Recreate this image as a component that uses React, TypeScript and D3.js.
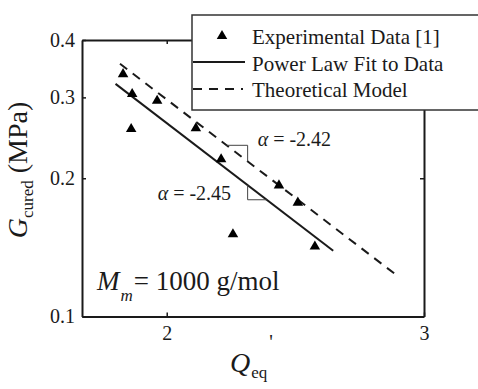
import React, { useEffect, useRef } from "react";
import * as d3 from "d3";

// experimental points (Q_eq', G_cured in MPa)
const qEq = [1.867, 1.894, 1.891, 1.97, 2.094, 2.179, 2.387, 2.459, 2.22, 2.526];
const gCured = [0.337, 0.305, 0.256, 0.295, 0.257, 0.22, 0.193, 0.177, 0.151, 0.142];
// power law fit and theoretical model (end points on log-log axes)
const fitQ = [1.845, 2.6];
const fitG = [0.321, 0.139];
const modelQ = [1.858, 2.88];
const modelG = [0.355, 0.1223];
// slope markers (Q range of each little triangle)
const modelSlopeQ = [2.198, 2.272];
const fitSlopeQ = [2.272, 2.341];
const slopeValues = ["-2.42", "-2.45"];
const xTicks = [2, 3];
const yTicks = [0.1, 0.2, 0.3, 0.4];
const legendLabels = ["Experimental Data [1]", "Power Law Fit to Data", "Theoretical Model"];

const FONT = "Liberation Serif, Times New Roman, serif";
const INK = "#1a1a1a";

const App = () => {
  const ref = useRef<SVGSVGElement>(null);
  const width = 478;
  const height = 389;
  const margin = { top: 40, right: 54, bottom: 72.5, left: 82 };

  useEffect(() => {
    const svg = d3.select(ref.current);
    svg.selectAll("*").remove();

    const x = d3
      .scaleLog()
      .domain([1.75, 3])
      .range([margin.left, width - margin.right]);
    const y = d3
      .scaleLog()
      .domain([0.1, 0.4])
      .range([height - margin.bottom, margin.top]);

    const styleAxis = (g) => {
      g.attr("font-family", null).attr("font-size", null);
      g.select(".domain").attr("stroke", INK).attr("stroke-width", 2);
      g.selectAll(".tick line").attr("stroke", INK).attr("stroke-width", 1.5);
      g.selectAll(".tick text")
        .attr("fill", INK)
        .style("font-family", FONT)
        .style("font-size", "20px");
    };

    svg
      .append("g")
      .attr("transform", `translate(0,${height - margin.bottom})`)
      .call(
        d3.axisBottom(x).tickValues(xTicks).tickFormat(d3.format("d")).tickSize(-4).tickSizeOuter(0).tickPadding(9)
      )
      .call(styleAxis);
    svg
      .append("g")
      .attr("transform", `translate(0,${margin.top})`)
      .call(d3.axisTop(x).tickValues(xTicks).tickFormat(() => "").tickSize(-4).tickSizeOuter(0))
      .call(styleAxis);
    svg
      .append("g")
      .attr("transform", `translate(${margin.left},0)`)
      .call(
        d3.axisLeft(y).tickValues(yTicks).tickFormat(d3.format(".1f")).tickSize(-4).tickSizeOuter(0).tickPadding(7)
      )
      .call(styleAxis);
    svg
      .append("g")
      .attr("transform", `translate(${width - margin.right},0)`)
      .call(d3.axisRight(y).tickValues(yTicks).tickFormat(() => "").tickSize(-4).tickSizeOuter(0))
      .call(styleAxis);

    const line = d3
      .line()
      .x((d) => x(d[0]))
      .y((d) => y(d[1]));

    const fit = d3.zip(fitQ, fitG);
    const model = d3.zip(modelQ, modelG);

    svg
      .append("path")
      .datum(model)
      .attr("d", line)
      .attr("fill", "none")
      .attr("stroke", INK)
      .attr("stroke-width", 2)
      .attr("stroke-dasharray", "9,7");
    svg
      .append("path")
      .datum(fit)
      .attr("d", line)
      .attr("fill", "none")
      .attr("stroke", INK)
      .attr("stroke-width", 2);

    // value of a straight log-log segment at q
    const onLine = (qs, gs, q) => {
      const t = (Math.log(q) - Math.log(qs[0])) / (Math.log(qs[1]) - Math.log(qs[0]));
      return Math.exp(Math.log(gs[0]) + t * (Math.log(gs[1]) - Math.log(gs[0])));
    };

    const m1 = onLine(modelQ, modelG, modelSlopeQ[0]);
    const m2 = onLine(modelQ, modelG, modelSlopeQ[1]);
    svg
      .append("path")
      .datum([
        [modelSlopeQ[0], m1],
        [modelSlopeQ[1], m1],
        [modelSlopeQ[1], m2],
      ])
      .attr("d", line)
      .attr("fill", "none")
      .attr("stroke", "#444")
      .attr("stroke-width", 1);
    const f1 = onLine(fitQ, fitG, fitSlopeQ[0]);
    const f2 = onLine(fitQ, fitG, fitSlopeQ[1]);
    svg
      .append("path")
      .datum([
        [fitSlopeQ[0], f1],
        [fitSlopeQ[0], f2],
        [fitSlopeQ[1], f2],
      ])
      .attr("d", line)
      .attr("fill", "none")
      .attr("stroke", "#444")
      .attr("stroke-width", 1);

    const tri = d3.symbol().type(d3.symbolTriangle).size(48);
    svg
      .selectAll(".pt")
      .data(d3.zip(qEq, gCured))
      .enter()
      .append("path")
      .attr("class", "pt")
      .attr("d", tri)
      .attr("fill", "#000")
      .attr("transform", (d) => `translate(${x(d[0])},${y(d[1])})`);

    const addText = (px, py, size) =>
      svg
        .append("text")
        .attr("x", px)
        .attr("y", py)
        .style("font-family", FONT)
        .style("font-size", `${size}px`)
        .attr("fill", INK);

    // slope labels
    const slopeText = (sx, sy, val) => {
      const t = addText(sx, sy, 20);
      t.append("tspan").style("font-style", "italic").text("α");
      t.append("tspan").text(` = ${val}`);
    };
    slopeText(x(modelSlopeQ[1]) + 10, y(m1) + 1, slopeValues[0]);
    slopeText(x(fitSlopeQ[0]) - 90, y(f1) + 15, slopeValues[1]);

    // M_m annotation
    const mm = addText(97, 290, 27);
    mm.append("tspan").style("font-style", "italic").text("M");
    mm.append("tspan").style("font-style", "italic").style("font-size", "17px").attr("dy", 11).attr("dx", 1).text("m");
    mm.append("tspan").attr("dy", -11).attr("dx", 1).text("= 1000 g/mol");

    // axis titles
    const yl = addText(0, 0, 28)
      .attr("transform", "translate(27,170) rotate(-90)")
      .attr("text-anchor", "middle");
    yl.append("tspan").style("font-style", "italic").text("G");
    yl.append("tspan").style("font-size", "17px").attr("dy", 6).text("cured");
    yl.append("tspan").attr("dy", -6).text(" (MPa)");

    const xl = addText(230, 372, 28);
    xl.append("tspan").style("font-style", "italic").text("Q");
    xl.append("tspan").style("font-size", "17px").attr("dy", 6).attr("dx", 1).text("eq");
    xl.append("tspan").style("font-size", "20px").attr("dy", -29).attr("dx", 2).text("'");

    // legend
    const lg = svg.append("g");
    lg.append("rect")
      .attr("x", 192)
      .attr("y", 15)
      .attr("width", 320)
      .attr("height", 95)
      .attr("fill", "#fff")
      .attr("stroke", "#333")
      .attr("stroke-width", 1.5);
    lg.append("path").attr("d", tri).attr("fill", "#000").attr("transform", "translate(222,36)");
    lg.append("line")
      .attr("x1", 193)
      .attr("x2", 245)
      .attr("y1", 62)
      .attr("y2", 62)
      .attr("stroke", INK)
      .attr("stroke-width", 2);
    lg.append("line")
      .attr("x1", 193)
      .attr("x2", 243)
      .attr("y1", 89)
      .attr("y2", 89)
      .attr("stroke", INK)
      .attr("stroke-width", 2)
      .attr("stroke-dasharray", "9,7");
    lg.selectAll(".lbl")
      .data(legendLabels)
      .enter()
      .append("text")
      .attr("class", "lbl")
      .attr("x", 252)
      .attr("y", (d, i) => 44 + i * 26.5)
      .style("font-family", FONT)
      .style("font-size", "21px")
      .attr("fill", INK)
      .text((d) => d);
  }, []);

  return (
    <svg
      ref={ref}
      width={width}
      height={height}
      style={{ position: "absolute", left: 0, top: 0, background: "#fff", fontFamily: FONT }}
    ></svg>
  );
};

export default App;
